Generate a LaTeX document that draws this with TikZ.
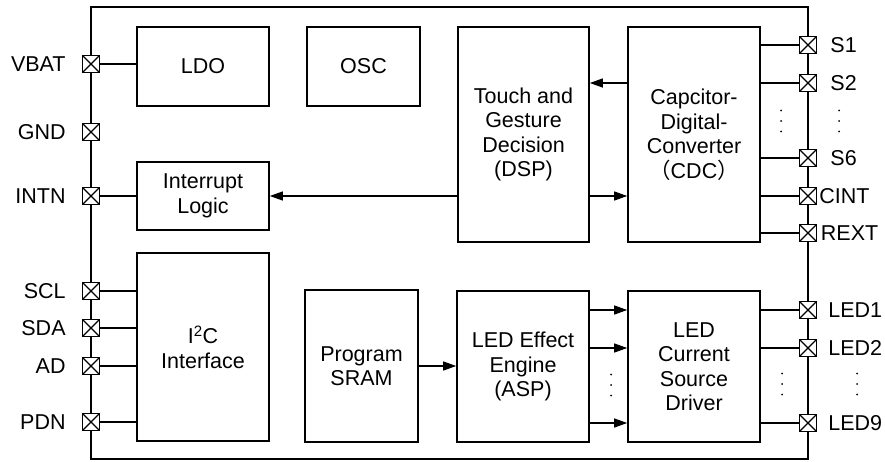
\documentclass[tikz,border=0pt]{standalone}
\usepackage{fontspec}
\setmainfont{Liberation Sans}
\newfontfamily\cjk{Noto Sans CJK SC}
\usetikzlibrary{arrows.meta,positioning}

\begin{document}
\begin{tikzpicture}[x=1pt,y=-1pt,font=\fontsize{21.5}{24.5}\selectfont,
  blk/.style={draw,line width=1.6pt,align=center,inner sep=0pt},
  pin/.style={draw,line width=1.4pt,fill=white,minimum size=17pt,inner sep=0pt,
    path picture={\draw[line width=1.2pt] (path picture bounding box.north west)--(path picture bounding box.south east)
      (path picture bounding box.south west)--(path picture bounding box.north east);}},
  lbl/.style={inner sep=0pt},
  wire/.style={line width=1.2pt},
  arr/.style={line width=1.2pt,-{Triangle[length=13pt,width=9pt]}}]
  \useasboundingbox (0,0) rectangle (885,462);
  \draw[line width=2pt] (91,7) rectangle (808,459);
  % blocks
  \node[blk,minimum width=132pt,minimum height=79pt] (ldo) at (203,66.5) {LDO};
  \node[blk,minimum width=113pt,minimum height=79pt] (osc) at (363.5,66.5) {OSC};
  \node[blk,minimum width=132pt,minimum height=68pt] (int) at (203,196) {Interrupt\\Logic};
  \node[blk,minimum width=132pt,minimum height=188pt] (i2c) at (203,347) {I\textsuperscript{2}C\\Interface};
  \node[blk,minimum width=131pt,minimum height=215pt] (dsp) at (523.5,134.5) {Touch and\\Gesture\\Decision\\(DSP)};
  \node[blk,minimum width=132pt,minimum height=215pt] (cdc) at (694,134.5) {Capcitor-\\Digital-\\Converter\\{\cjk （}CDC{\cjk ）}};
  \node[blk,minimum width=113pt,minimum height=152pt] (sram) at (361.5,366) {Program\\SRAM};
  \node[blk,minimum width=132pt,minimum height=151pt] (asp) at (523,366.5) {LED Effect\\Engine\\(ASP)};
  \node[blk,minimum width=132pt,minimum height=151pt] (drv) at (694,366.5) {LED\\Current\\Source\\Driver};
  % pins
  \foreach \n/\y/\t in {vbat/64/VBAT,gnd/132/GND,intn/196/INTN,scl/291/SCL,sda/328/SDA,ad/366/AD,pdn/422/PDN}{
    \node[pin] (\n) at (91,\y) {};
    \node[lbl,left=16pt of \n] {\t};
  }
  \foreach \n/\y/\t/\g in {s1/45/S1/13pt,s2/83/S2/13pt,s6/158/S6/13pt,cint/196/CINT/2pt,rext/233/REXT/3.5pt,
      led1/310/LED1/11pt,led2/348/LED2/11pt,led9/423/LED9/11pt}{
    \node[pin] (\n) at (808,\y) {};
    \node[lbl,right=\g of \n] {\t};
  }
  % connections
  \draw[wire] (vbat.east) -- (vbat -| ldo.west);
  \draw[wire] (intn.east) -- (intn -| int.west);
  \foreach \n in {scl,sda,ad,pdn} \draw[wire] (\n.east) -- (\n -| i2c.west);
  \foreach \n in {s1,s2,s6,cint,rext} \draw[wire] (\n.west) -- (\n -| cdc.east);
  \foreach \n in {led1,led2,led9}{
    \draw[wire] (\n.west) -- (\n -| drv.east);
    \draw[arr] (asp.east |- \n) -- (drv.west |- \n);
  }
  \draw[arr] (cdc.west |- s2) -- (dsp.east |- s2);
  \draw[arr] (dsp.east |- cint) -- (cdc.west |- cint);
  \draw[arr] (dsp.west |- intn) -- (int.east);
  \draw[arr] (sram.east) -- (sram.east -| asp.west);
  % dots
  \foreach \x/\y in {781/121,839/121,611/385,782/384,857/384}
    \foreach \d in {-10.5,0,10.5} \fill (\x,\y+\d) circle (1pt);
\end{tikzpicture}
\end{document}
